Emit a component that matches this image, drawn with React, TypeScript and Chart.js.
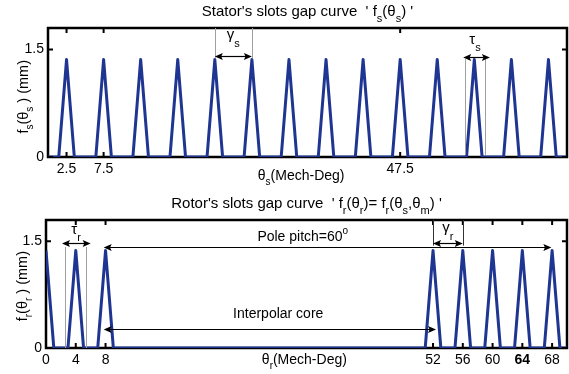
import React, { useEffect, useRef } from 'react';
import { Chart, registerables } from 'chart.js';

Chart.register(...registerables);

const FONT = '"Liberation Sans", Arial, Helvetica, sans-serif';
const BLUE = '#1f3592';

// ---------- data: stator slots gap curve ----------
const statorAngles = [
  0, 1.45, 2.5, 3.55, 6.45, 7.5, 8.55, 11.45, 12.5, 13.55, 16.45, 17.5, 18.55,
  21.45, 22.5, 23.55, 26.45, 27.5, 28.55, 31.45, 32.5, 33.55, 36.45, 37.5, 38.55,
  41.45, 42.5, 43.55, 46.45, 47.5, 48.55, 51.45, 52.5, 53.55, 56.45, 57.5, 58.55,
  61.45, 62.5, 63.55, 66.45, 67.5, 68.55, 70,
];
const statorGap = [
  0, 0, 1.36, 0, 0, 1.36, 0, 0, 1.36, 0, 0, 1.36, 0,
  0, 1.36, 0, 0, 1.36, 0, 0, 1.36, 0, 0, 1.36, 0,
  0, 1.36, 0, 0, 1.36, 0, 0, 1.36, 0, 0, 1.36, 0,
  0, 1.36, 0, 0, 1.36, 0, 0,
];
const statorXTicks = [2.5, 7.5, 47.5];
const statorYTicks = [0, 1.5];

// ---------- data: rotor slots gap curve ----------
const rotorAngles = [
  0, 1.05, 2.95, 4, 5.05, 6.95, 8, 9.05, 50.95, 52, 53.05, 54.95, 56, 57.05,
  58.95, 60, 61.05, 62.95, 64, 65.05, 66.95, 68, 69.05, 70,
];
const rotorGap = [
  1.37, 0, 0, 1.37, 0, 0, 1.37, 0, 0, 1.37, 0, 0, 1.37, 0,
  0, 1.37, 0, 0, 1.37, 0, 0, 1.37, 0, 0,
];
const rotorXTicks = [0, 4, 8, 52, 56, 60, 64, 68];
const rotorBoldTick = 64;
const rotorYTicks = [0, 1.5];

const xMin = 0;
const xMax = 70;
const yMin = 0;
const yMax = 1.8;

type Seg = { t: string; s?: 'sub' | 'sup'; dy?: number };
type Ann =
  | { kind: 'vline'; x: number; y1: number; y2: number; color: string }
  | { kind: 'arrow'; x1: number; x2: number; y: number }
  | { kind: 'text'; x: number; y: number; segs: Seg[]; size: number; align: 'center' | 'left' };

interface PanelCfg {
  angles: number[];
  gap: number[];
  xTicks: number[];
  yTicks: number[];
  boldTick?: number;
  height: number;
  padTop: number;
  yAxisWidth: number;
  xAxisHeight: number;
  title: Seg[];
  yLabel: Seg[];
  yLabelPos: { x: number; y: number }; // x: pixel baseline, y: data value center
  xLabel: Seg[];
  xLabelPos: { x: number; dy: number }; // x: data, dy: px below chart bottom
  anns: Ann[];
}

function segFont(size: number, seg: Seg) {
  return `${seg.s ? Math.round(size * 0.72) : size}px ${FONT}`;
}

function richWidth(ctx: CanvasRenderingContext2D, segs: Seg[], size: number) {
  let w = 0;
  for (const seg of segs) {
    ctx.font = segFont(size, seg);
    w += ctx.measureText(seg.t).width;
  }
  return w;
}

function drawRich(
  ctx: CanvasRenderingContext2D,
  segs: Seg[],
  x: number,
  y: number,
  size: number,
  align: 'center' | 'left'
) {
  const w = richWidth(ctx, segs, size);
  let cx = align === 'center' ? x - w / 2 : x;
  ctx.textAlign = 'left';
  ctx.textBaseline = 'alphabetic';
  ctx.fillStyle = '#000';
  for (const seg of segs) {
    ctx.font = segFont(size, seg);
    let dy = 0;
    if (seg.s === 'sub') dy = seg.dy ?? size * 0.36;
    if (seg.s === 'sup') dy = -(seg.dy ?? size * 0.45);
    ctx.fillText(seg.t, cx, y + dy);
    cx += ctx.measureText(seg.t).width;
  }
}

function arrowHead(ctx: CanvasRenderingContext2D, x: number, y: number, dir: number) {
  const L = 8;
  const H = 3.5;
  ctx.beginPath();
  ctx.moveTo(x, y);
  ctx.lineTo(x - dir * L, y - H);
  ctx.lineTo(x - dir * L * 0.8, y);
  ctx.lineTo(x - dir * L, y + H);
  ctx.closePath();
  ctx.fill();
}

function makePlugin(cfg: PanelCfg) {
  return {
    id: 'panelDecor',
    beforeDatasetsDraw(chart: any) {
      const { ctx, chartArea: a } = chart;
      ctx.save();
      ctx.strokeStyle = '#000';
      ctx.lineWidth = 2.5;
      ctx.strokeRect(a.left, a.top, a.right - a.left, a.bottom - a.top);
      ctx.restore();
    },
    afterDatasetsDraw(chart: any) {
      const { ctx, chartArea: a } = chart;
      const xs = chart.scales.x;
      const ys = chart.scales.y;
      ctx.save();
      // inward tick marks
      ctx.strokeStyle = '#000';
      ctx.lineWidth = 2;
      for (const t of xs.ticks) {
        const px = xs.getPixelForValue(t.value);
        ctx.beginPath();
        ctx.moveTo(px, a.bottom);
        ctx.lineTo(px, a.bottom - 5);
        ctx.moveTo(px, a.top);
        ctx.lineTo(px, a.top + 5);
        ctx.stroke();
      }
      for (const t of ys.ticks) {
        const py = ys.getPixelForValue(t.value);
        ctx.beginPath();
        ctx.moveTo(a.left, py);
        ctx.lineTo(a.left + 5, py);
        ctx.moveTo(a.right, py);
        ctx.lineTo(a.right - 5, py);
        ctx.stroke();
      }
      // annotations
      for (const an of cfg.anns) {
        if (an.kind === 'vline') {
          const px = xs.getPixelForValue(an.x);
          ctx.strokeStyle = an.color;
          ctx.lineWidth = 1;
          ctx.beginPath();
          ctx.moveTo(Math.round(px) + 0.5, ys.getPixelForValue(an.y1));
          ctx.lineTo(Math.round(px) + 0.5, ys.getPixelForValue(an.y2));
          ctx.stroke();
        } else if (an.kind === 'arrow') {
          const x1 = xs.getPixelForValue(an.x1);
          const x2 = xs.getPixelForValue(an.x2);
          const py = Math.round(ys.getPixelForValue(an.y)) + 0.5;
          ctx.strokeStyle = '#000';
          ctx.fillStyle = '#000';
          ctx.lineWidth = 1.2;
          ctx.beginPath();
          ctx.moveTo(x1 + 4, py);
          ctx.lineTo(x2 - 4, py);
          ctx.stroke();
          arrowHead(ctx, x1, py, -1);
          arrowHead(ctx, x2, py, 1);
        } else {
          drawRich(ctx, an.segs, xs.getPixelForValue(an.x), ys.getPixelForValue(an.y), an.size, an.align);
        }
      }
      // title
      drawRich(ctx, cfg.title, (a.left + a.right) / 2, a.top - 11.6, 15, 'center');
      // x label
      drawRich(ctx, cfg.xLabel, xs.getPixelForValue(cfg.xLabelPos.x), a.bottom + cfg.xLabelPos.dy, 14, 'left');
      // y label (rotated)
      ctx.translate(cfg.yLabelPos.x, ys.getPixelForValue(cfg.yLabelPos.y));
      ctx.rotate(-Math.PI / 2);
      drawRich(ctx, cfg.yLabel, 0, 0, 14.5, 'center');
      ctx.restore();
    },
  };
}

function Panel({ cfg }: { cfg: PanelCfg }) {
  const ref = useRef<HTMLCanvasElement | null>(null);
  useEffect(() => {
    if (!ref.current) return;
    const points = cfg.angles.map((x, i) => ({ x, y: cfg.gap[i] }));
    const tickFont = (c: any) => ({
      family: FONT,
      size: 14,
      weight: cfg.boldTick !== undefined && c.tick && c.tick.value === cfg.boldTick ? 'bold' : 'normal',
    });
    const chart = new Chart(ref.current, {
      type: 'scatter',
      data: {
        datasets: [
          {
            data: points,
            showLine: true,
            borderColor: BLUE,
            backgroundColor: BLUE,
            borderWidth: 3,
            pointRadius: 0,
            borderJoinStyle: 'round',
            tension: 0,
          } as any,
        ],
      },
      options: {
        responsive: false,
        animation: false,
        devicePixelRatio: 1,
        layout: { padding: { top: cfg.padTop, left: 0, right: 2, bottom: 0 } },
        plugins: { legend: { display: false }, tooltip: { enabled: false }, title: { display: false } },
        scales: {
          x: {
            type: 'linear',
            min: xMin,
            max: xMax,
            grid: { display: false, drawTicks: false },
            border: { display: false },
            ticks: {
              autoSkip: false,
              maxRotation: 0,
              padding: 4,
              color: '#000',
              font: tickFont as any,
              callback: (v: any) => String(v),
            },
            afterBuildTicks: (s: any) => {
              s.ticks = cfg.xTicks.map((v) => ({ value: v }));
            },
            afterFit: (s: any) => {
              s.height = cfg.xAxisHeight;
            },
          },
          y: {
            type: 'linear',
            min: yMin,
            max: yMax,
            grid: { display: false, drawTicks: false },
            border: { display: false },
            ticks: {
              padding: 4,
              color: '#000',
              font: { family: FONT, size: 14 },
              callback: (v: any) => String(v),
            },
            afterBuildTicks: (s: any) => {
              s.ticks = cfg.yTicks.map((v) => ({ value: v }));
            },
            afterFit: (s: any) => {
              s.width = cfg.yAxisWidth;
            },
          },
        },
      },
      plugins: [makePlugin(cfg)],
    });
    return () => chart.destroy();
  }, [cfg]);
  return <canvas ref={ref} width={569} height={cfg.height} style={{ display: 'block', width: 569, height: cfg.height }} />;
}

const GRAY = '#a0a0a0';

const statorCfg: PanelCfg = {
  angles: statorAngles,
  gap: statorGap,
  xTicks: statorXTicks,
  yTicks: statorYTicks,
  height: 185,
  padTop: 28,
  yAxisWidth: 48,
  xAxisHeight: 28,
  title: [
    { t: "Stator's slots gap curve  ' f" },
    { t: 's', s: 'sub' },
    { t: '(θ' },
    { t: 's', s: 'sub' },
    { t: ") '" },
  ],
  yLabel: [{ t: 'f' }, { t: 's', s: 'sub' }, { t: '(θ' }, { t: 's', s: 'sub' }, { t: ' ) (mm)' }],
  yLabelPos: { x: 27.5, y: 0.84 },
  xLabel: [{ t: 'θ' }, { t: 's', s: 'sub' }, { t: '(Mech-Deg)' }],
  xLabelPos: { x: 28.3, dy: 22.5 },
  anns: [
    { kind: 'vline', x: 22.5, y1: 1.8, y2: 1.38, color: GRAY },
    { kind: 'vline', x: 27.5, y1: 1.8, y2: 1.38, color: GRAY },
    { kind: 'arrow', x1: 22.5, x2: 27.5, y: 1.41 },
    { kind: 'text', x: 25, y: 1.65, size: 15, align: 'center', segs: [{ t: 'γ' }, { t: 's', s: 'sub', dy: 8 }] },
    { kind: 'vline', x: 56.2, y1: 1.37, y2: 0.03, color: GRAY },
    { kind: 'vline', x: 59.0, y1: 1.37, y2: 0.03, color: GRAY },
    { kind: 'arrow', x1: 56.0, x2: 59.6, y: 1.39 },
    { kind: 'text', x: 57.6, y: 1.57, size: 15, align: 'center', segs: [{ t: 'τ' }, { t: 's', s: 'sub', dy: 6.5 }] },
  ],
};

const rotorCfg: PanelCfg = {
  angles: rotorAngles,
  gap: rotorGap,
  xTicks: rotorXTicks,
  yTicks: rotorYTicks,
  boldTick: rotorBoldTick,
  height: 189,
  padTop: 35,
  yAxisWidth: 46,
  xAxisHeight: 26,
  title: [
    { t: "Rotor's slots gap curve  ' f" },
    { t: 'r', s: 'sub' },
    { t: '(θ' },
    { t: 'r', s: 'sub' },
    { t: ')= f' },
    { t: 'r', s: 'sub' },
    { t: '(θ' },
    { t: 's', s: 'sub' },
    { t: ',θ' },
    { t: 'm', s: 'sub' },
    { t: ") '" },
  ],
  yLabel: [{ t: 'f' }, { t: 'r', s: 'sub' }, { t: '(θ' }, { t: 'r', s: 'sub' }, { t: ' ) (mm)' }],
  yLabelPos: { x: 27, y: 0.87 },
  xLabel: [{ t: 'θ' }, { t: 'r', s: 'sub' }, { t: '(Mech-Deg)' }],
  xLabelPos: { x: 29.0, dy: 15.5 },
  anns: [
    { kind: 'vline', x: 2.5, y1: 1.42, y2: 0, color: GRAY },
    { kind: 'vline', x: 5.4, y1: 1.42, y2: 0, color: GRAY },
    { kind: 'arrow', x1: 2.15, x2: 6.0, y: 1.47 },
    { kind: 'text', x: 4.05, y: 1.6, size: 15, align: 'center', segs: [{ t: 'τ' }, { t: 'r', s: 'sub', dy: 6.5 }] },
    { kind: 'arrow', x1: 7.75, x2: 67.9, y: 1.42 },
    {
      kind: 'text',
      x: 34.5,
      y: 1.51,
      size: 14,
      align: 'center',
      segs: [{ t: 'Pole pitch=60' }, { t: 'o', s: 'sup', dy: 6.5 }],
    },
    { kind: 'vline', x: 52, y1: 1.8, y2: 1.44, color: '#333' },
    { kind: 'vline', x: 56, y1: 1.8, y2: 1.44, color: '#333' },
    { kind: 'arrow', x1: 52, x2: 56, y: 1.47 },
    { kind: 'text', x: 54, y: 1.63, size: 15, align: 'center', segs: [{ t: 'γ' }, { t: 'r', s: 'sub', dy: 8 }] },
    { kind: 'arrow', x1: 7.75, x2: 52.4, y: 0.27 },
    { kind: 'text', x: 31.2, y: 0.42, size: 14, align: 'center', segs: [{ t: 'Interpolar core' }] },
  ],
};

export default function App() {
  return (
    <div style={{ position: 'fixed', left: 0, top: 0, width: 569, height: 374, background: '#fff' }}>
      <Panel cfg={statorCfg} />
      <Panel cfg={rotorCfg} />
    </div>
  );
}
